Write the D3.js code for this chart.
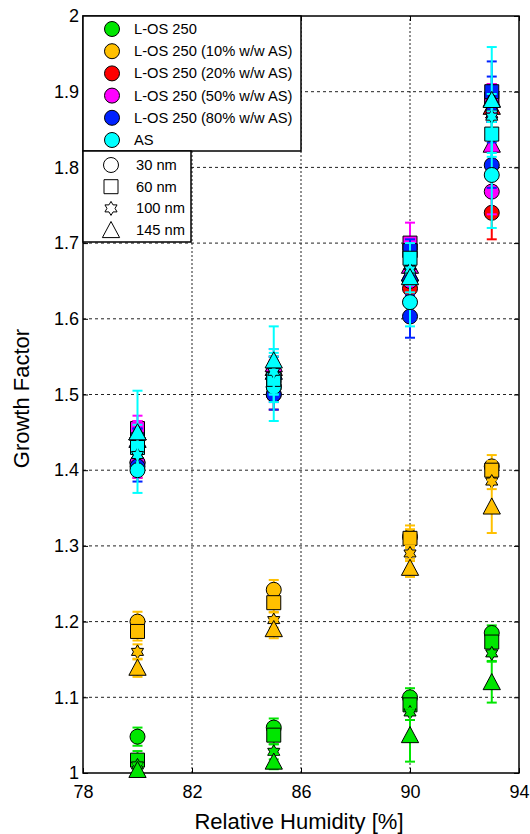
<!DOCTYPE html>
<html lang="en">
<head>
    <meta charset="UTF-8">
    <title>growth factor</title>
    <script src="https://d3js.org/d3.v7.min.js"></script>
    <style>
        body { margin: 0; background: white; }
        svg { display: block; }
        text { font-family: "Liberation Sans", Arial, sans-serif; }
    </style>
</head>
<body>
    <svg></svg>
    <script>
        // Data: rows are particle sizes (30, 60, 100, 145 nm), columns are RH points
        var rh = [80, 85, 90, 93];
        var sizeLabels = ["30 nm", "60 nm", "100 nm", "145 nm"];
        var seriesLabels = ["L-OS 250", "L-OS 250 (10% w/w AS)", "L-OS 250 (20% w/w AS)",
                            "L-OS 250 (50% w/w AS)", "L-OS 250 (80% w/w AS)", "AS"];
        var xTicks = [78, 82, 86, 90, 94];
        var yTicks = [1, 1.1, 1.2, 1.3, 1.4, 1.5, 1.6, 1.7, 1.8, 1.9, 2];

        var gfLOS = [[1.048, 1.060, 1.100, 1.185], [1.017, 1.050, 1.090, 1.173], [1.010, 1.028, 1.080, 1.158], [1.004, 1.015, 1.050, 1.120]];
        var errLOS = [[0.012, 0.012, 0.012, 0.010], [0.012, 0.012, 0.012, 0.012], [0.010, 0.010, 0.010, 0.010], [0.008, 0.010, 0.035, 0.027]];
        var gf10 = [[1.200, 1.242, 1.312, 1.405], [1.187, 1.225, 1.310, 1.400], [1.160, 1.202, 1.290, 1.385], [1.139, 1.190, 1.271, 1.352]];
        var err10 = [[0.013, 0.013, 0.015, 0.015], [0.012, 0.012, 0.012, 0.012], [0.010, 0.010, 0.010, 0.010], [0.012, 0.012, 0.012, 0.035]];
        var gf20 = [[1.410, 1.500, 1.640, 1.740], [1.440, 1.520, 1.690, 1.890], [1.430, 1.520, 1.670, 1.870], [1.450, 1.535, 1.660, 1.880]];
        var err20 = [[0.020, 0.020, 0.020, 0.035], [0.015, 0.015, 0.015, 0.020], [0.015, 0.015, 0.015, 0.020], [0.015, 0.015, 0.015, 0.020]];
        var gf50 = [[1.410, 1.510, 1.650, 1.768], [1.455, 1.525, 1.700, 1.890], [1.430, 1.525, 1.680, 1.870], [1.450, 1.540, 1.670, 1.830]];
        var err50 = [[0.020, 0.020, 0.020, 0.030], [0.017, 0.020, 0.027, 0.020], [0.015, 0.015, 0.015, 0.020], [0.015, 0.020, 0.015, 0.020]];
        var gf80 = [[1.405, 1.500, 1.603, 1.803], [1.440, 1.515, 1.690, 1.900], [1.420, 1.520, 1.670, 1.880], [1.440, 1.530, 1.660, 1.890]];
        var err80 = [[0.020, 0.020, 0.028, 0.030], [0.015, 0.020, 0.015, 0.040], [0.015, 0.015, 0.015, 0.020], [0.015, 0.020, 0.015, 0.030]];
        var gfAS = [[1.400, 1.510, 1.622, 1.790], [1.430, 1.520, 1.680, 1.844], [1.420, 1.530, 1.665, 1.867], [1.450, 1.545, 1.655, 1.889]];
        var errAS = [[0.030, 0.045, 0.032, 0.070], [0.030, 0.030, 0.020, 0.030], [0.025, 0.030, 0.020, 0.030], [0.055, 0.045, 0.020, 0.070]];

        var allGf = [gfLOS, gf10, gf20, gf50, gf80, gfAS];
        var allErr = [errLOS, err10, err20, err50, err80, errAS];
        var colors = ["#00e600", "#ffc000", "#ff0000", "#ff00ff", "#0022ff", "#00ffff"];

        var width = 530, height = 834;
        var svg = d3.select("svg").attr("width", width).attr("height", height);

        var x = d3.scaleLinear().domain([78, 94]).range([83, 519]);
        var y = d3.scaleLinear().domain([1, 2]).range([773, 16]);

        // Marker shapes
        function markerPath(k, s) {
            if (k === 0) return d3.symbol(d3.symbolCircle, Math.PI * s * s)();
            if (k === 1) return "M" + (-s) + "," + (-s) + "H" + s + "V" + s + "H" + (-s) + "Z";
            if (k === 2) {
                var pts = [];
                for (var i = 0; i < 12; i++) {
                    var r = i % 2 === 0 ? s : s * 0.58;
                    var a = Math.PI / 6 * i - Math.PI / 2;
                    pts.push([r * Math.cos(a), r * Math.sin(a)]);
                }
                return "M" + pts.join("L") + "Z";
            }
            return "M0," + (-s * 1.15) + "L" + (s * 1.15) + "," + s + "L" + (-s * 1.15) + "," + s + "Z";
        }
        var markerSize = [7.5, 7, 7, 7.5];

        // Grid
        var grid = svg.append("g");
        grid.selectAll("line.h").data(yTicks.slice(1, -1)).enter().append("line")
            .attr("x1", x(78)).attr("x2", x(94))
            .attr("y1", d => y(d)).attr("y2", d => y(d))
            .attr("stroke", "#222").attr("stroke-width", 1).attr("stroke-dasharray", "3,3");
        grid.selectAll("line.v").data(xTicks.slice(1, -1)).enter().append("line")
            .attr("y1", y(1)).attr("y2", y(2))
            .attr("x1", d => x(d)).attr("x2", d => x(d))
            .attr("stroke", "#222").attr("stroke-width", 1).attr("stroke-dasharray", "2,2");

        // Axes frame and inner ticks
        svg.append("rect").attr("x", x(78)).attr("y", y(2))
            .attr("width", x(94) - x(78)).attr("height", y(1) - y(2))
            .attr("fill", "none").attr("stroke", "#000").attr("stroke-width", 1.5);
        svg.append("g").attr("transform", "translate(0," + y(1) + ")")
            .call(d3.axisBottom(x).tickValues(xTicks).tickSize(-5).tickFormat(d3.format("d")))
            .call(g => g.select(".domain").remove())
            .selectAll("text").attr("font-size", 18).attr("dy", "1.2em").attr("fill", "#000");
        svg.append("g").attr("transform", "translate(" + x(78) + ",0)")
            .call(d3.axisLeft(y).tickValues(yTicks).tickSize(-5).tickFormat(d3.format("~g")))
            .call(g => g.select(".domain").remove())
            .selectAll("text").attr("font-size", 18).attr("dx", "-0.05em").attr("fill", "#000");
        svg.append("g").attr("transform", "translate(" + x(94) + ",0)")
            .call(d3.axisRight(y).tickValues(yTicks).tickSize(-5).tickFormat(""))
            .call(g => g.select(".domain").remove());
        svg.append("g").attr("transform", "translate(0," + y(2) + ")")
            .call(d3.axisTop(x).tickValues(xTicks).tickSize(-5).tickFormat(""))
            .call(g => g.select(".domain").remove());

        svg.append("text").attr("x", (x(78) + x(94)) / 2 - 2).attr("y", 829)
            .attr("text-anchor", "middle").attr("font-size", 22).text("Relative Humidity [%]");
        svg.append("text").attr("transform", "translate(29," + (y(1.5) + 4) + ") rotate(-90)")
            .attr("text-anchor", "middle").attr("font-size", 22).text("Growth Factor");

        // Error bars and markers
        var plot = svg.append("g");
        allGf.forEach(function(gf, si) {
            gf.forEach(function(row, k) {
                var pts = row.map((v, j) => ({rh: rh[j], gf: v, err: allErr[si][k][j]}));
                var g = plot.append("g");
                g.selectAll("line.eb").data(pts).enter().append("line")
                    .attr("x1", d => x(d.rh)).attr("x2", d => x(d.rh))
                    .attr("y1", d => y(d.gf - d.err)).attr("y2", d => y(d.gf + d.err))
                    .attr("stroke", colors[si]).attr("stroke-width", 2);
                [-1, 1].forEach(function(sgn) {
                    g.selectAll("line.cap" + sgn).data(pts).enter().append("line")
                        .attr("x1", d => x(d.rh) - 5).attr("x2", d => x(d.rh) + 5)
                        .attr("y1", d => y(d.gf + sgn * d.err)).attr("y2", d => y(d.gf + sgn * d.err))
                        .attr("stroke", colors[si]).attr("stroke-width", 2);
                });
                g.selectAll("path").data(pts).enter().append("path")
                    .attr("d", markerPath(k, markerSize[k]))
                    .attr("transform", d => "translate(" + x(d.rh) + "," + y(d.gf) + ")")
                    .attr("fill", colors[si]).attr("stroke", "#000").attr("stroke-width", 1);
            });
        });

        // Legend: series colours
        var lg1 = svg.append("g");
        lg1.append("rect").attr("x", 83).attr("y", 16).attr("width", 218).attr("height", 135)
            .attr("fill", "white").attr("stroke", "#000").attr("stroke-width", 1.5);
        seriesLabels.forEach(function(lbl, i) {
            var yy = 29 + i * 22.2;
            lg1.append("circle").attr("cx", 112).attr("cy", yy).attr("r", 7.5)
                .attr("fill", colors[i]).attr("stroke", "#000").attr("stroke-width", 1);
            lg1.append("text").attr("x", 134).attr("y", yy + 5).attr("font-size", 14.7).text(lbl);
        });

        // Legend: particle sizes
        var lg2 = svg.append("g");
        lg2.append("rect").attr("x", 83).attr("y", 151).attr("width", 108).attr("height", 91)
            .attr("fill", "white").attr("stroke", "#000").attr("stroke-width", 1.5);
        sizeLabels.forEach(function(lbl, k) {
            var yy = 165 + k * 21.7;
            lg2.append("path").attr("d", markerPath(k, markerSize[k]))
                .attr("transform", "translate(111," + yy + ")")
                .attr("fill", "white").attr("stroke", "#000").attr("stroke-width", 1);
            lg2.append("text").attr("x", 136).attr("y", yy + 5).attr("font-size", 14.7).text(lbl);
        });
    </script>
</body>
</html>
